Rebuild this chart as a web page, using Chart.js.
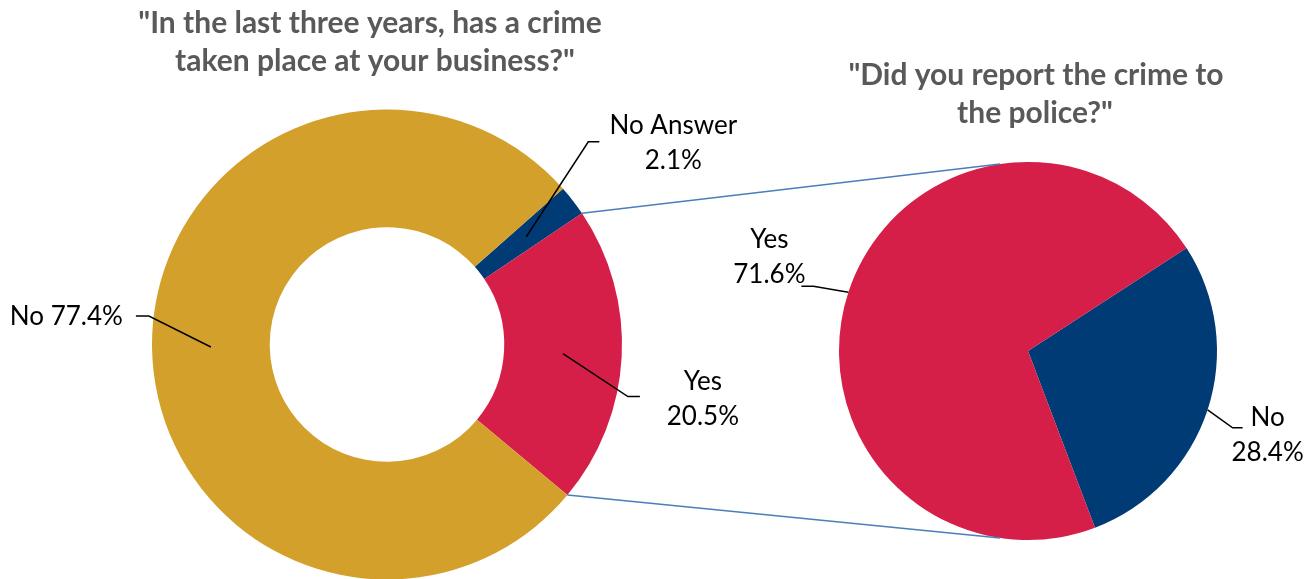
<!DOCTYPE html>
<html>
<head>
<meta charset="utf-8">
<script src="https://cdn.jsdelivr.net/npm/chart.js@4.4.1/dist/chart.umd.min.js"></script>
<style>
  html, body { margin: 0; padding: 0; background: #ffffff; }
  #wrap { position: relative; width: 1315px; height: 579px; overflow: hidden; }
  #wrap canvas { position: absolute; left: 0; top: 0; }
</style>
</head>
<body>
<div id="wrap">
  <canvas id="crimeChart" width="1315" height="579"></canvas>
  <canvas id="reportChart" width="1315" height="579"></canvas>
</div>
<script>
// Survey answers: "In the last three years, has a crime taken place at your business?"
const crimeLabels = ['No Answer', 'Yes', 'No'];
const crimeValues = [2.1, 20.5, 77.4];
const crimeColors = ['#003B76', '#D51F48', '#D4A02C'];
const crimeTitle = ['"In the last three years, has a crime', 'taken place at your business?"'];

// Follow-up for those who answered Yes: "Did you report the crime to the police?"
const reportLabels = ['No', 'Yes'];
const reportValues = [28.4, 71.6];
const reportColors = ['#003B76', '#D51F48'];
const reportTitle = ['"Did you report the crime to', 'the police?"'];

const LABEL_FONT = '400 26px Lato, "Open Sans", sans-serif';
const TITLE_FONT = '700 30px Lato, "Open Sans", sans-serif';
const TEXT_COLOR = '#000000';
const TITLE_COLOR = '#595959';
const LINE_H = 35;

// Leader-line geometry per slice: anchor radius (0 = inner edge, 1 = outer edge),
// elbow and end offsets from the anchor, text offset and alignment.
const crimeCallouts = [
  { ring: 0.5, elbow: [62, -95], end: [73, -95], text: [147, -111], align: 'center', lines: d => [d.label, d.value.toFixed(1) + '%'] },
  { ring: 0.5, elbow: [65, 43], end: [77, 43], text: [140, 28], align: 'center', lines: d => [d.label, d.value.toFixed(1) + '%'] },
  { ring: 0.5, elbow: [-62, -31], end: [-75, -31], text: [-88, -30], align: 'right', lines: d => [d.label + ' ' + d.value.toFixed(1) + '%'] }
];
const reportCallouts = [
  { ring: 1, elbow: [25, 18], end: [35, 18], text: [60, 8], align: 'center', lines: d => [d.label, d.value.toFixed(1) + '%'] },
  { ring: 1, elbow: [-35, -6], end: [-47, -6], text: [-79, -53], align: 'center', lines: d => [d.label, d.value.toFixed(1) + '%'] }
];

function calloutPlugin(id, callouts, titleLines, titleCenter) {
  return {
    id: id,
    afterDatasetsDraw(chart) {
      const ctx = chart.ctx;
      const meta = chart.getDatasetMeta(0);
      const ds = chart.data.datasets[0];
      ctx.save();
      meta.data.forEach((arc, i) => {
        const c = callouts[i];
        const p = arc.getProps(['x', 'y', 'startAngle', 'endAngle', 'innerRadius', 'outerRadius'], true);
        const mid = (p.startAngle + p.endAngle) / 2;
        const r = p.innerRadius + (p.outerRadius - p.innerRadius) * c.ring;
        const ax = p.x + Math.cos(mid) * r;
        const ay = p.y + Math.sin(mid) * r;
        ctx.strokeStyle = '#000000';
        ctx.lineWidth = 1.5;
        ctx.beginPath();
        ctx.moveTo(ax, ay);
        ctx.lineTo(ax + c.elbow[0], ay + c.elbow[1]);
        ctx.lineTo(ax + c.end[0], ay + c.end[1]);
        ctx.stroke();
        const lines = c.lines({ label: chart.data.labels[i], value: ds.data[i] });
        ctx.font = LABEL_FONT;
        ctx.fillStyle = TEXT_COLOR;
        ctx.textAlign = c.align;
        ctx.textBaseline = 'middle';
        lines.forEach((t, k) => ctx.fillText(t, ax + c.text[0], ay + c.text[1] + k * LINE_H));
      });
      // chart heading
      ctx.font = TITLE_FONT;
      ctx.fillStyle = TITLE_COLOR;
      ctx.textAlign = 'center';
      ctx.textBaseline = 'middle';
      titleLines.forEach((t, k) => ctx.fillText(t, titleCenter[0] + titleCenter[2][k], titleCenter[1] + k * 38));
      ctx.restore();
    }
  };
}

// Connector lines from the "Yes" wedge of the doughnut to the breakdown pie.
const connectorPlugin = {
  id: 'connector',
  afterDatasetsDraw(chart) {
    const src = crimeChart.getDatasetMeta(0).data[1];
    const dst = chart.getDatasetMeta(0).data[0];
    const s = src.getProps(['x', 'y', 'startAngle', 'endAngle', 'outerRadius'], true);
    const d = dst.getProps(['x', 'y', 'outerRadius'], true);
    const reach = 98.5 * Math.PI / 180;
    const ctx = chart.ctx;
    ctx.save();
    ctx.strokeStyle = '#4A7EBB';
    ctx.lineWidth = 1.5;
    ctx.beginPath();
    ctx.moveTo(s.x + Math.cos(s.startAngle) * s.outerRadius, s.y + Math.sin(s.startAngle) * s.outerRadius);
    ctx.lineTo(d.x + Math.cos(-reach) * d.outerRadius, d.y + Math.sin(-reach) * d.outerRadius);
    ctx.moveTo(s.x + Math.cos(s.endAngle) * s.outerRadius, s.y + Math.sin(s.endAngle) * s.outerRadius);
    ctx.lineTo(d.x + Math.cos(reach) * d.outerRadius, d.y + Math.sin(reach) * d.outerRadius);
    ctx.stroke();
    ctx.restore();
  }
};

const commonOptions = {
  responsive: false,
  animation: false,
  events: [],
  plugins: { legend: { display: false }, tooltip: { enabled: false }, title: { display: false } }
};

const crimeChart = new Chart(document.getElementById('crimeChart'), {
  type: 'doughnut',
  data: {
    labels: crimeLabels,
    datasets: [{ data: crimeValues, backgroundColor: crimeColors, borderWidth: 0 }]
  },
  options: Object.assign({}, commonOptions, {
    rotation: 48.5,
    radius: 235,
    cutout: 117,
    layout: { padding: { left: 152, right: 693, top: 110, bottom: 0 } }
  }),
  plugins: [calloutPlugin('crimeCallouts', crimeCallouts, crimeTitle, [372, 23, [-2, 3]])]
});

const reportChart = new Chart(document.getElementById('reportChart'), {
  type: 'pie',
  data: {
    labels: reportLabels,
    datasets: [{ data: reportValues, backgroundColor: reportColors, borderWidth: 0 }]
  },
  options: Object.assign({}, commonOptions, {
    rotation: 57,
    layout: { padding: { left: 839, right: 98, top: 162, bottom: 39 } }
  }),
  plugins: [connectorPlugin, calloutPlugin('reportCallouts', reportCallouts, reportTitle, [1035, 75, [1, 0]])]
});
</script>
</body>
</html>
